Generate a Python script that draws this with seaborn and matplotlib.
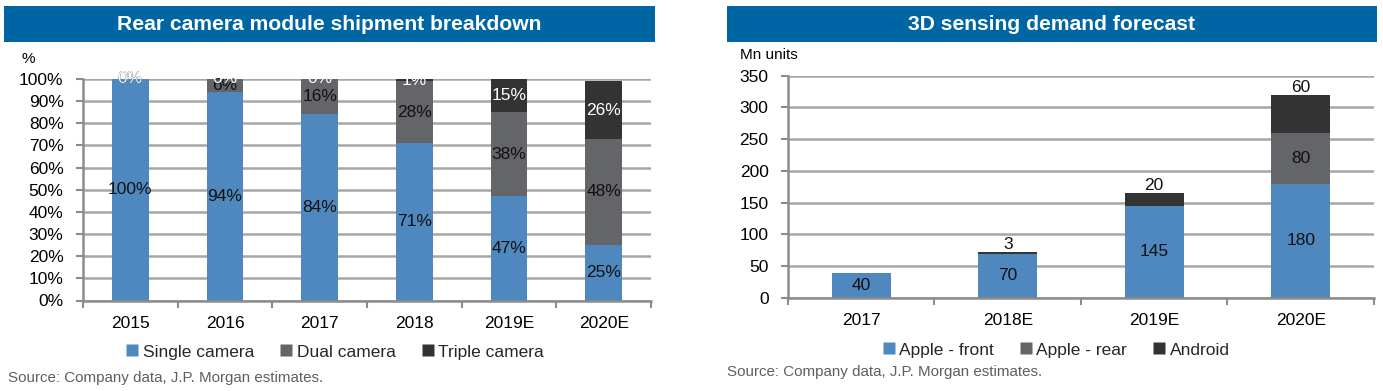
import matplotlib
matplotlib.use("Agg")
import matplotlib.pyplot as plt
import seaborn as sns
import numpy as np
from matplotlib.patches import Rectangle
from matplotlib.lines import Line2D
from matplotlib import font_manager

# ---------------- data ----------------
years_l = ["2015", "2016", "2017", "2018", "2019E", "2020E"]
single = [100, 94, 84, 71, 47, 25]
dual = [0, 6, 16, 28, 38, 48]
triple = [0, 0, 0, 1, 15, 26]
left_series = ["Single camera", "Dual camera", "Triple camera"]
left_yticks = [0, 10, 20, 30, 40, 50, 60, 70, 80, 90, 100]

years_r = ["2017", "2018E", "2019E", "2020E"]
apple_front = [40, 70, 145, 180]
apple_rear = [0, 0, 0, 80]
android = [0, 3, 20, 60]
right_series = ["Apple - front", "Apple - rear", "Android"]
right_yticks = [0, 50, 100, 150, 200, 250, 300, 350]

left_title = "Rear camera module shipment breakdown"
right_title = "3D sensing demand forecast"
source = "Source: Company data, J.P. Morgan estimates."

# ---------------- style ----------------
BLUE = "#4F88BF"
GREY = "#646569"
DARK = "#333333"
BANNER = "#0066A3"
GRID = "#A6A6A6"
AXIS = "#8C8C8C"

sns.set_theme(style="white")
names = {f.name for f in font_manager.fontManager.ttflist}
HAS_NARROW = "Liberation Sans Narrow" in names
MAIN = "Liberation Sans Narrow" if HAS_NARROW else "Liberation Sans"
plt.rcParams['font.family'] = [MAIN, 'DejaVu Sans']
FS = 14 if HAS_NARROW else 12.5

W, H = 1383, 391
fig = plt.figure(figsize=(W / 100, H / 100), dpi=100)
fig.patch.set_facecolor("white")


def fx(px):
    return px / W


def fy(py):
    return 1 - py / H


def style_axes(ax, n):
    ax.set_axisbelow(True)
    ax.yaxis.grid(True, color=GRID, lw=1.8)
    ax.xaxis.grid(False)
    for s in ["top", "right"]:
        ax.spines[s].set_visible(False)
    for s in ["left", "bottom"]:
        ax.spines[s].set_color(AXIS)
        ax.spines[s].set_linewidth(1.8)
    ax.set_xlim(-0.5, n - 0.5)
    ax.set_xticks(np.arange(-0.5, n, 1.0), minor=True)
    ax.tick_params(axis="x", which="major", length=0, pad=11, labelsize=FS, colors="black")
    ax.tick_params(axis="x", which="minor", bottom=True, length=5, width=1.5, color=AXIS, direction="out")
    ax.tick_params(axis="y", which="major", left=True, length=5, width=1.5, color=AXIS,
                   direction="out", labelsize=FS, labelcolor="black", pad=9)
    ax.set_xlabel("")
    ax.set_ylabel("")


# ---------------- left chart ----------------
axL = fig.add_axes([fx(83), fy(300.5), fx(651 - 83), (300.5 - 79) / H])
c1 = np.array(single)
c2 = c1 + np.array(dual)
c3 = c2 + np.array(triple)
for vals, col in [(c3, DARK), (c2, GREY), (c1, BLUE)]:
    sns.barplot(x=years_l, y=vals, color=col, saturation=1, width=0.39, ax=axL,
                linewidth=0, errorbar=None)
style_axes(axL, len(years_l))
axL.set_ylim(0, 100)
axL.set_yticks(left_yticks)
axL.set_yticklabels([f"{v}%" for v in left_yticks])

for i in range(len(years_l)):
    axL.text(i, single[i] / 2, f"{single[i]}%", ha="center", va="center", fontsize=FS, color="#111111")
    axL.text(i, c1[i] + dual[i] / 2, f"{dual[i]}%", ha="center", va="center", fontsize=FS, color="#111111")
    axL.text(i, c2[i] + triple[i] / 2, f"{triple[i]}%", ha="center", va="center", fontsize=FS, color="white")

# ---------------- right chart ----------------
axR = fig.add_axes([fx(788), fy(298), fx(1374 - 788), (298 - 75.7) / H])
r1 = np.array(apple_front)
r2 = r1 + np.array(apple_rear)
r3 = r2 + np.array(android)
for vals, col in [(r3, DARK), (r2, GREY), (r1, BLUE)]:
    sns.barplot(x=years_r, y=vals, color=col, saturation=1, width=0.4, ax=axR,
                linewidth=0, errorbar=None)
style_axes(axR, len(years_r))
axR.set_ylim(0, 350)
axR.set_yticks(right_yticks)
axR.set_yticklabels([str(v) for v in right_yticks])

for i in range(len(years_r)):
    axR.text(i, apple_front[i] / 2, str(apple_front[i]), ha="center", va="center", fontsize=FS, color="#111111")
    if apple_rear[i] > 0:
        axR.text(i, r1[i] + apple_rear[i] / 2, str(apple_rear[i]), ha="center", va="center", fontsize=FS, color="#111111")
    if android[i] > 0:
        axR.text(i, r3[i], str(android[i]), ha="center", va="bottom", fontsize=FS, color="#111111")

# ---------------- banners / texts ----------------
for x0, x1, title in [(4, 655, left_title), (727, 1377, right_title)]:
    fig.add_artist(Rectangle((fx(x0), fy(42)), fx(x1 - x0), 36 / H, transform=fig.transFigure,
                             facecolor=BANNER, edgecolor="none"))
    fig.text(fx((x0 + x1) / 2), fy(24), title, ha="center", va="center", color="white",
             fontsize=15.2, fontweight="bold", family=["Liberation Sans", "DejaVu Sans"])

fig.text(fx(22), fy(59), "%", ha="left", va="center", fontsize=11, color="black")
fig.text(fx(740), fy(55), "Mn units", ha="left", va="center", fontsize=11, color="black")


def legend(series, cx, cy):
    handles = [Line2D([], [], marker="s", linestyle="none", markersize=9, markerfacecolor=c,
                      markeredgecolor="none", label=s)
               for s, c in zip(series, [BLUE, GREY, DARK])]
    fig.legend(handles=handles, loc="center", bbox_to_anchor=(fx(cx), fy(cy)), ncol=3,
               frameon=False, fontsize=FS, handlelength=0.7, handletextpad=0.25,
               columnspacing=1.5, borderaxespad=0)


legend(left_series, 335, 352)
legend(right_series, 1056, 350)

fig.text(fx(8), fy(378), source, ha="left", va="center", fontsize=10.9, color="#5F5F5F",
         family=["Liberation Sans", "DejaVu Sans"])
fig.text(fx(727), fy(372), source, ha="left", va="center", fontsize=10.9, color="#5F5F5F",
         family=["Liberation Sans", "DejaVu Sans"])

fig.savefig("out.png", dpi=100, facecolor="white")
